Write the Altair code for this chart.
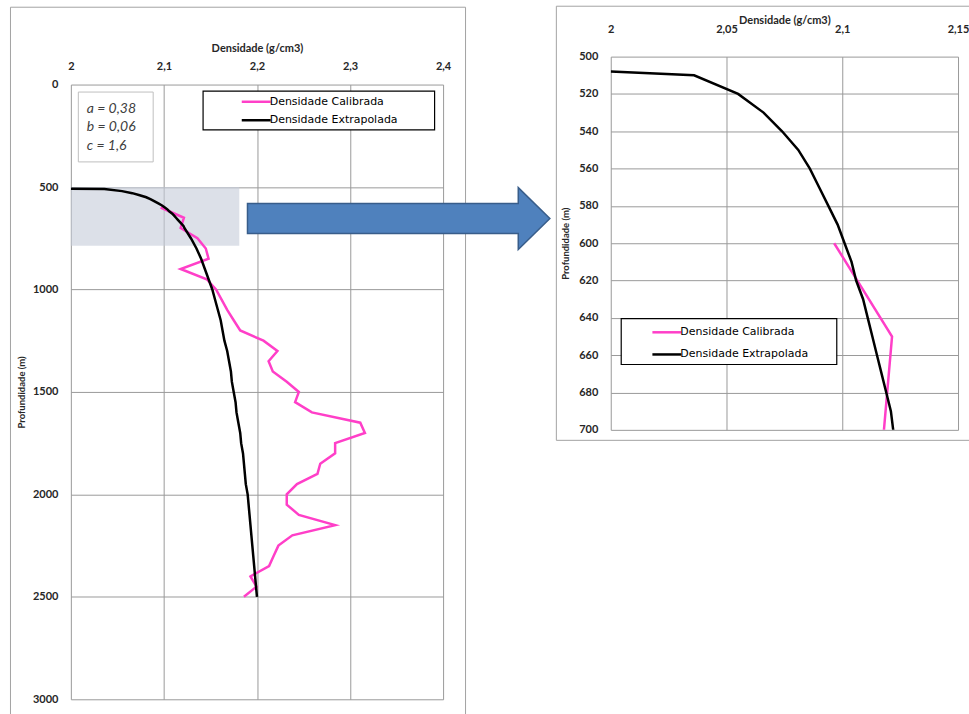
import altair as alt
import pandas as pd

# Séries do perfil de densidade
CALIB_NAME = "Densidade Calibrada"
EXTRAP_NAME = "Densidade Extrapolada"
SERIES_COLORS = ["#ff3fc8", "#000000"]

# Densidade calibrada: profundidade (m) e densidade (g/cm3)
CALIB_DEPTH = [600, 650, 700, 750, 800, 850, 900, 950, 1000, 1050, 1100, 1150,
               1200, 1250, 1300, 1350, 1400, 1450, 1500, 1550, 1600, 1650, 1700,
               1750, 1800, 1850, 1900, 1950, 2000, 2050, 2100, 2150, 2200, 2250,
               2300, 2350, 2400, 2450, 2500]
CALIB_DENS = [2.0965, 2.1215, 2.118, 2.136, 2.145, 2.148, 2.118, 2.146, 2.156,
              2.162, 2.168, 2.175, 2.182, 2.207, 2.222, 2.2125, 2.217, 2.232,
              2.245, 2.241, 2.259, 2.311, 2.316, 2.284, 2.284, 2.268, 2.265,
              2.243, 2.232, 2.232, 2.245, 2.284, 2.238, 2.223, 2.218, 2.213,
              2.193, 2.1995, 2.186]

# Densidade extrapolada a partir do fundo do mar
EXTRAP_DEPTH = [508, 510, 520, 530, 540, 550, 560, 570, 580, 590, 600, 610, 620,
                630, 640, 650, 660, 670, 680, 690, 700, 750, 800, 850, 900, 950,
                1000, 1050, 1100, 1150, 1200, 1250, 1300, 1350, 1400, 1450, 1500,
                1550, 1600, 1650, 1700, 1750, 1800, 1850, 1900, 1950, 2000, 2050,
                2100, 2150, 2200, 2250, 2300, 2350, 2400, 2450, 2500]
EXTRAP_DENS = [2.000, 2.036, 2.055, 2.066, 2.074, 2.081, 2.086, 2.090, 2.094,
               2.098, 2.101, 2.104, 2.106, 2.109, 2.111, 2.113, 2.115, 2.117,
               2.119, 2.121, 2.122, 2.129, 2.135, 2.140, 2.144, 2.148, 2.152,
               2.155, 2.158, 2.161, 2.163, 2.165, 2.168, 2.170, 2.172, 2.173,
               2.175, 2.177, 2.178, 2.180, 2.182, 2.183, 2.185, 2.186, 2.187,
               2.188, 2.190, 2.191, 2.192, 2.193, 2.194, 2.195, 2.196, 2.197,
               2.198, 2.199, 2.200]

# Parâmetros do ajuste
PARAM_NAMES = ["a", "b", "c"]
PARAM_VALUES = ["0,38", "0,06", "1,6"]

# Janela destacada no perfil completo (ampliada à direita)
ZOOM_DENS = [2.0, 2.181]
ZOOM_DEPTH = [500, 787]

FULL_DENS_DOMAIN = [2.0, 2.4]
FULL_DEPTH_DOMAIN = [0, 3000]
FULL_DENS_TICKS = [2.0, 2.1, 2.2, 2.3, 2.4]
FULL_DEPTH_TICKS = [0, 500, 1000, 1500, 2000, 2500, 3000]

DETAIL_DENS_DOMAIN = [2.0, 2.15]
DETAIL_DEPTH_DOMAIN = [500, 700]
DETAIL_DENS_TICKS = [2.0, 2.05, 2.1, 2.15]
DETAIL_DEPTH_TICKS = [500, 520, 540, 560, 580, 600, 620, 640, 660, 680, 700]

X_TITLE = "Densidade (g/cm3)"
Y_TITLE = "Profundidade (m)"

FRAME_COLOR = "#a3a3a3"
COMMA_LABEL = "replace(toString(datum.value), '.', ',')"

profile = pd.concat([
    pd.DataFrame({"serie": CALIB_NAME, "depth": CALIB_DEPTH, "dens": CALIB_DENS}),
    pd.DataFrame({"serie": EXTRAP_NAME, "depth": EXTRAP_DEPTH, "dens": EXTRAP_DENS}),
], ignore_index=True)

zoom_box = pd.DataFrame({"dens": [ZOOM_DENS[0]], "dens2": [ZOOM_DENS[1]],
                         "depth": [ZOOM_DEPTH[0]], "depth2": [ZOOM_DEPTH[1]]})
one_row = pd.DataFrame({"k": [0]})
params_text = [f"{n} = {v}" for n, v in zip(PARAM_NAMES, PARAM_VALUES)]

color_scale = alt.Scale(domain=[CALIB_NAME, EXTRAP_NAME], range=SERIES_COLORS)
ARROW_PATH = ("M-1,-0.099L0.791,-0.099L0.791,-0.2046L1,0L0.791,0.2046"
              "L0.791,0.099L-1,0.099Z")


def series_legend(x, y, row_pad):
    return alt.Legend(
        title=None, orient="none", legendX=x, legendY=y, padding=0,
        symbolType="M-2,0H2", symbolSize=210.25, symbolStrokeWidth=2.5,
        symbolOffset=7.25, labelOffset=5, rowPadding=row_pad,
        labelFont="DejaVu Sans", labelFontSize=11, labelColor="#000000",
    )


def box(x1, x2, y1, y2, stroke, fill_opacity=0.0, width=1.0):
    return alt.Chart(one_row).mark_rect(
        fill="#ffffff", fillOpacity=fill_opacity, stroke=stroke, strokeWidth=width
    ).encode(x=alt.value(x1), x2=alt.value(x2), y=alt.value(y1), y2=alt.value(y2))


# ---- Perfil completo ----
x_full = alt.X("dens:Q", scale=alt.Scale(domain=FULL_DENS_DOMAIN, nice=False, zero=False),
               axis=alt.Axis(orient="top", values=FULL_DENS_TICKS, labelExpr=COMMA_LABEL,
                             title=X_TITLE, labelPadding=13, labelFlush=False,
                             titleY=-36, titleBaseline="middle"))
y_full = alt.Y("depth:Q", scale=alt.Scale(domain=FULL_DEPTH_DOMAIN, nice=False, zero=False,
                                          reverse=True),
               axis=alt.Axis(values=FULL_DEPTH_TICKS, format="d", title=Y_TITLE,
                             labelPadding=13, titleFontSize=9.5, titleX=-49,
                             titleBaseline="middle"))

full_frame = box(-60.5, 395.5, -77.5, 640, FRAME_COLOR)
full_shade = alt.Chart(zoom_box).mark_rect(color="#c5cbd9", opacity=0.6).encode(
    x=x_full, x2="dens2", y=y_full, y2="depth2")
full_lines = alt.Chart(profile).mark_line(strokeWidth=2.5, clip=True).encode(
    x=x_full, y=y_full,
    color=alt.Color("serie:N", scale=color_scale, legend=series_legend(170, 8.75, 4.5)),
    order=alt.Order("depth:Q"))
full_legend_box = box(132.5, 364.5, 6.5, 45.5, "#000000", 1.0, 1.2)
params_box = box(7.5, 82.5, 7.5, 77.5, "#bfbfbf", 1.0, 1.0)
params_label = alt.Chart(one_row).mark_text(
    align="left", baseline="alphabetic", font="Lato", fontStyle="italic",
    fontSize=14, lineHeight=19, color="#404040", text=params_text
).encode(x=alt.value(16), y=alt.value(28))
arrow = alt.Chart(one_row).mark_point(
    shape=ARROW_PATH, size=303 * 303, filled=True, fill="#4f81bd",
    stroke="#385d8a", strokeWidth=1.5, opacity=1
).encode(x=alt.value(328.5), y=alt.value(134.3))

full_panel = alt.layer(
    full_frame, full_shade, full_lines, full_legend_box, params_box, params_label, arrow
).properties(width=373, height=616)

spacer = alt.Chart(one_row).mark_point(opacity=0).encode(
    x=alt.value(0), y=alt.value(0)).properties(width=373, height=1)

left_column = alt.vconcat(spacer, full_panel, spacing=27, bounds="flush").resolve_scale(
    color="independent").resolve_legend(color="independent")

# ---- Detalhe 500–700 m ----
x_det = alt.X("dens:Q", scale=alt.Scale(domain=DETAIL_DENS_DOMAIN, nice=False, zero=False),
              axis=alt.Axis(orient="top", values=DETAIL_DENS_TICKS, labelExpr=COMMA_LABEL,
                            title=X_TITLE, labelPadding=22, labelFlush=False,
                            titleY=-36, titleBaseline="middle"))
y_det = alt.Y("depth:Q", scale=alt.Scale(domain=DETAIL_DEPTH_DOMAIN, nice=False, zero=False,
                                         reverse=True),
              axis=alt.Axis(values=DETAIL_DEPTH_TICKS, format="d", title=Y_TITLE,
                            labelPadding=13, titleFontSize=9.5, titleX=-45,
                            titleBaseline="middle"))

det_frame = box(-54.5, 362.5, -50.5, 384.5, FRAME_COLOR)
det_lines = alt.Chart(profile).mark_line(strokeWidth=2.5, clip=True).encode(
    x=x_det, y=y_det,
    color=alt.Color("serie:N", scale=color_scale, legend=series_legend(40.5, 267.75, 8.2)),
    order=alt.Order("depth:Q"))
det_legend_box = box(10.5, 226.5, 262.5, 308.5, "#000000", 1.0, 1.2)

detail_panel = alt.layer(det_frame, det_lines, det_legend_box).properties(width=348, height=374)

# the nested column counts as zero width in a flush layout, so the gap spans the full panel
chart = alt.hconcat(left_column, detail_panel, spacing=541, bounds="flush").resolve_scale(
    color="independent").resolve_legend(color="independent").properties(
    padding={"left": 9, "top": 4, "right": -5, "bottom": -10},
    background="#ffffff",
).configure_view(stroke="transparent").configure_axis(
    domain=False, ticks=False, grid=True, gridColor="#9a9a9a", gridWidth=1,
    labelFont="Lato", labelFontWeight="bold", labelFontSize=11, labelColor="#262626",
    titleFont="Lato", titleFontWeight="bold", titleFontSize=11, titleColor="#262626",
)

chart.save("out.html", embed_options={"renderer": "svg", "actions": False})
